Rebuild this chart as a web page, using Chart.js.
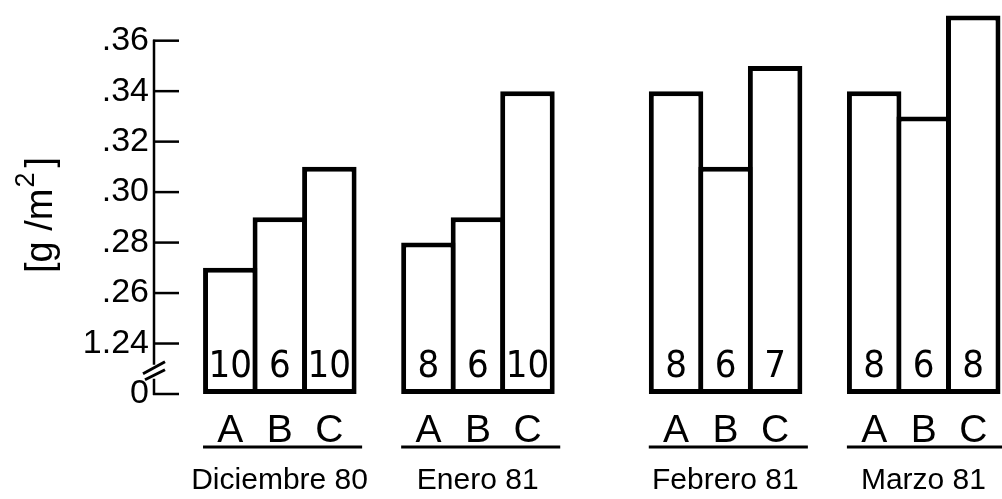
<!DOCTYPE html>
<html><head><meta charset="utf-8">
<script src="https://cdn.jsdelivr.net/npm/chart.js@4.4.1/dist/chart.umd.min.js"></script>
<style>html,body{margin:0;padding:0;background:#fff;} #wrap{width:1002px;height:499px;}</style>
</head><body><div id="wrap"><canvas id="c" width="1002" height="499"></canvas></div>
<script>
// ---- data ----
const months = ['Diciembre 80', 'Enero 81', 'Febrero 81', 'Marzo 81'];
const sites = ['A', 'B', 'C'];
const seriesA = [0.27, 0.28, 0.34, 0.34];
const seriesB = [0.29, 0.29, 0.31, 0.33];
const seriesC = [0.31, 0.34, 0.35, 0.37];
const countsA = [10, 8, 8, 8];
const countsB = [6, 6, 6, 6];
const countsC = [10, 10, 7, 8];
const yTickValues = [0.22, 0.24, 0.26, 0.28, 0.30, 0.32, 0.34, 0.36];
const yTickLabels = ['0', '1.24', '.26', '.28', '.30', '.32', '.34', '.36'];
const yTitleMain = '[g /m';
const yTitleSup = '2';
const yTitleEnd = ']';

// ---- layout: empty slots placed before each month group ----
const gapSlots = [1, 1, 2, 1];
const allSeries = [seriesA, seriesB, seriesC];
const allCounts = [countsA, countsB, countsC];
const labels = [], values = [], counts = [], groups = [];
months.forEach((m, i) => {
  for (let g = 0; g < gapSlots[i]; g++) { labels.push(''); values.push(null); counts.push(null); }
  const start = labels.length;
  sites.forEach((s, j) => { labels.push(s); values.push(allSeries[j][i]); counts.push(allCounts[j][i]); });
  groups.push({ name: m, first: start, last: start + sites.length - 1 });
});

const FONT = "'Liberation Sans', Arial, sans-serif";
const NARROW = "'Liberation Sans Narrow', 'DejaVu Sans Condensed', 'Liberation Sans', sans-serif";
const BW = 5;

const decor = {
  id: 'decor',
  beforeDraw(chart) {
    const ctx = chart.ctx;
    ctx.save(); ctx.fillStyle = '#fff'; ctx.fillRect(0, 0, chart.width, chart.height); ctx.restore();
  },
  afterDraw(chart) {
    const { ctx, chartArea, scales: { x, y } } = chart;
    const ax = chartArea.left - 2;
    const yTop = y.getPixelForValue(yTickValues[yTickValues.length - 1]);
    const yZero = y.getPixelForValue(yTickValues[0]);
    const yBrk = (yZero + y.getPixelForValue(yTickValues[1])) / 2;
    ctx.save();
    ctx.strokeStyle = '#000'; ctx.fillStyle = '#000'; ctx.lineCap = 'butt';
    // axis line with break
    ctx.lineWidth = 2.5;
    ctx.beginPath();
    ctx.moveTo(ax, yTop - 1); ctx.lineTo(ax, yBrk - 4);
    ctx.moveTo(ax, yBrk + 10); ctx.lineTo(ax, yZero + 1);
    ctx.stroke();
    // tick marks pointing inward
    yTickValues.forEach(v => {
      const py = y.getPixelForValue(v);
      ctx.beginPath(); ctx.moveTo(ax - 1, py); ctx.lineTo(ax + 25, py); ctx.stroke();
    });
    // break marks
    ctx.lineWidth = 3;
    ctx.beginPath();
    ctx.moveTo(ax - 11, yBrk + 5); ctx.lineTo(ax + 11, yBrk - 7);
    ctx.moveTo(ax - 9, yBrk + 11); ctx.lineTo(ax + 11, yBrk + 1);
    ctx.stroke();

    // counts inside bars
    const meta = chart.getDatasetMeta(0);
    ctx.font = '38px ' + NARROW;
    ctx.textAlign = 'center'; ctx.textBaseline = 'middle';
    meta.data.forEach((bar, i) => {
      if (counts[i] != null) ctx.fillText(String(counts[i]), bar.x, yZero - 27);
    });

    // underlines + month labels
    const slot = x.getPixelForValue(1) - x.getPixelForValue(0);
    ctx.lineWidth = 3;
    ctx.font = '30px ' + FONT;
    groups.forEach(g => {
      const l = x.getPixelForValue(g.first) - slot / 2 - BW / 2;
      const r = x.getPixelForValue(g.last) + slot / 2 + 8;
      ctx.beginPath(); ctx.moveTo(l, yZero + 53); ctx.lineTo(r, yZero + 53); ctx.stroke();
      ctx.fillText(g.name, (l + r) / 2 - 3, yZero + 87);
    });

    // y-axis title, rotated
    ctx.save();
    ctx.translate(52, 215);
    ctx.rotate(-Math.PI / 2);
    ctx.textBaseline = 'alphabetic';
    ctx.textAlign = 'left';
    const mainFont = '38px ' + FONT, supFont = '27px ' + FONT;
    ctx.font = mainFont; const w1 = ctx.measureText(yTitleMain).width; const w3 = ctx.measureText(yTitleEnd).width;
    ctx.font = supFont; const w2 = ctx.measureText(yTitleSup).width;
    const total = w1 + w2 + w3 + 6;
    let px = -total / 2;
    ctx.font = mainFont; ctx.fillText(yTitleMain, px, 0); px += w1 + 1;
    ctx.font = supFont; ctx.fillText(yTitleSup, px, -18); px += w2 + 5;
    ctx.font = mainFont; ctx.fillText(yTitleEnd, px, 0);
    ctx.restore();

    ctx.restore();
  }
};

new Chart(document.getElementById('c'), {
  type: 'bar',
  data: {
    labels: labels,
    datasets: [{
      data: values,
      base: yTickValues[0],
      backgroundColor: '#fff',
      borderColor: '#000',
      borderWidth: BW,
      borderSkipped: false,
      barPercentage: 1.1,
      categoryPercentage: 1.0,
      clip: false
    }]
  },
  options: {
    responsive: false,
    devicePixelRatio: 1,
    animation: false,
    layout: { padding: { top: 7, right: 4, left: 0, bottom: 0 } },
    plugins: { legend: { display: false }, tooltip: { enabled: false }, title: { display: false } },
    scales: {
      x: {
        grid: { display: false, drawTicks: false },
        border: { display: false },
        ticks: { autoSkip: false, maxRotation: 0, minRotation: 0, padding: 14, color: '#000',
                 font: { family: FONT, size: 39, lineHeight: 1.2 } },
        afterFit(scale) { scale.height = 105; }
      },
      y: {
        min: yTickValues[0],
        max: 0.372,
        grid: { display: false, drawTicks: false },
        border: { display: false },
        afterBuildTicks(scale) { scale.ticks = yTickValues.map(v => ({ value: v })); },
        ticks: {
          padding: 7, color: '#000',
          font: { family: FONT, size: 34, lineHeight: 0.2 },
          callback: (v) => { const k = yTickValues.findIndex(t => Math.abs(t - v) < 1e-6); return k >= 0 ? yTickLabels[k] : ''; }
        },
        afterFit(scale) { scale.width = 156; }
      }
    }
  },
  plugins: [decor]
});
</script>
</body></html>
